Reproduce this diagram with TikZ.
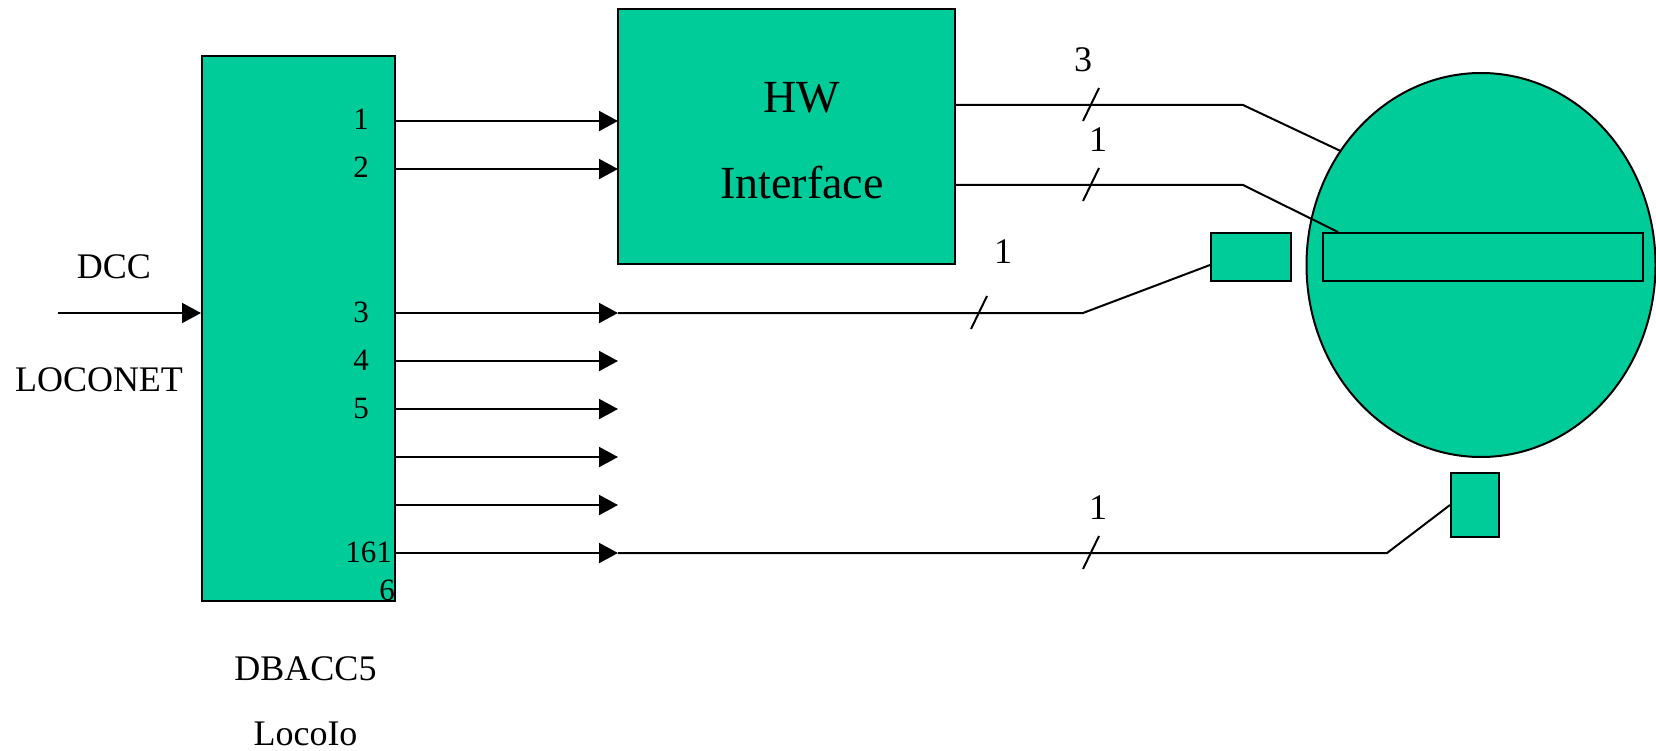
\documentclass[tikz,border=0pt]{standalone}
\usepackage{fontspec}
\setmainfont{Liberation Serif}
\usetikzlibrary{arrows.meta,shapes.geometric}
\definecolor{boardgreen}{RGB}{0,204,153}
\begin{document}
\begin{tikzpicture}[x=1pt,y=-1pt,
    box/.style={draw,fill=boardgreen,line width=2pt,inner sep=0pt},
    wire/.style={line width=2pt},
    sig/.style={wire,-{Triangle[length=19pt,width=20pt]}},
    lbl/.style={font=\fontsize{36}{40}\selectfont,anchor=base,inner sep=0pt},
    pin/.style={font=\fontsize{31}{34}\selectfont,anchor=base east,inner sep=0pt}]
  \useasboundingbox (0,0) rectangle (1656,751);
  % blocks
  \node[box,minimum width=193pt,minimum height=545pt] (dbacc) at (298.5,328.5) {};
  \node[box,minimum width=337pt,minimum height=255pt] (hw) at (786.5,136.5) {};
  \node[box,ellipse,minimum width=349pt,minimum height=384pt] (disc) at (1481,265) {};
  \node[box,minimum width=320pt,minimum height=48pt] (slot) at (1483,257) {};
  \node[box,minimum width=80pt,minimum height=48pt] (sensa) at (1251,257) {};
  \node[box,minimum width=48pt,minimum height=64pt] (sensb) at (1475,505) {};
  % texts
  \node[font=\fontsize{46}{50}\selectfont,anchor=base,inner sep=0pt] (hwtop) at (802,113) {HW};
  \node[font=\fontsize{46}{50}\selectfont,anchor=base,inner sep=0pt] (hwbot) at (802,199) {Interface};
  \node[lbl] (dcc) at (114,279) {DCC};
  \node[lbl] (loconet) at (99,391) {LOCONET};
  \node[lbl] (name) at (305.5,680) {DBACC5};
  \node[lbl] (kind) at (305.5,745) {LocoIo};
  % input
  \coordinate (dccin) at (58,313);
  \draw[sig] (dccin) -- (dccin -| dbacc.west);
  % outputs
  \foreach \y [count=\i] in {121,169,313,361,409,457,505,553}{
      \coordinate (out\i) at (618,\y);
      \draw[sig] (dbacc.east |- out\i) -- (out\i);
    }
  \foreach \t [count=\i] in {1,2,3,4,5}{
      \node[pin] (pin\i) at ([xshift=-27pt,yshift=-9pt]dbacc.east |- out\i) {\t};
    }
  \node[pin] (pin8) at ([xshift=-4pt,yshift=-9pt]dbacc.east |- out8) {161};
  \node[pin] (pin8b) at ([xshift=-1pt,yshift=-47pt]dbacc.east |- out8) {6};
  % wires to the turntable
  \coordinate (bend1) at (1243,105);
  \coordinate (bend2) at (1243,185);
  \coordinate (bend3) at (1083,313);
  \coordinate (bend4) at (1387,553);
  \draw[wire] (hw.east |- bend1) -- (bend1) -- (disc.141.5);
  \draw[wire] (hw.east |- bend2) -- (bend2) -- ([xshift=16pt]slot.north west);
  \draw[wire] (out3) -- (bend3) -- ([yshift=-8pt]sensa.west);
  \draw[wire] (out8) -- (bend4) -- (sensb.west);
  % bus width marks
  \foreach \x/\y [count=\i] in {1091/105,1091/185,979/313,1091/553}{
      \coordinate (cut\i) at (\x,\y);
      \draw[wire] ([shift={(-8,16)}]cut\i) -- ([shift={(8,-17)}]cut\i);
    }
  \node[lbl] (w1) at (1083,72) {3};
  \node[lbl] (w2) at (1098,152) {1};
  \node[lbl] (w3) at (1003,263) {1};
  \node[lbl] (w4) at (1098,519) {1};
\end{tikzpicture}
\end{document}
